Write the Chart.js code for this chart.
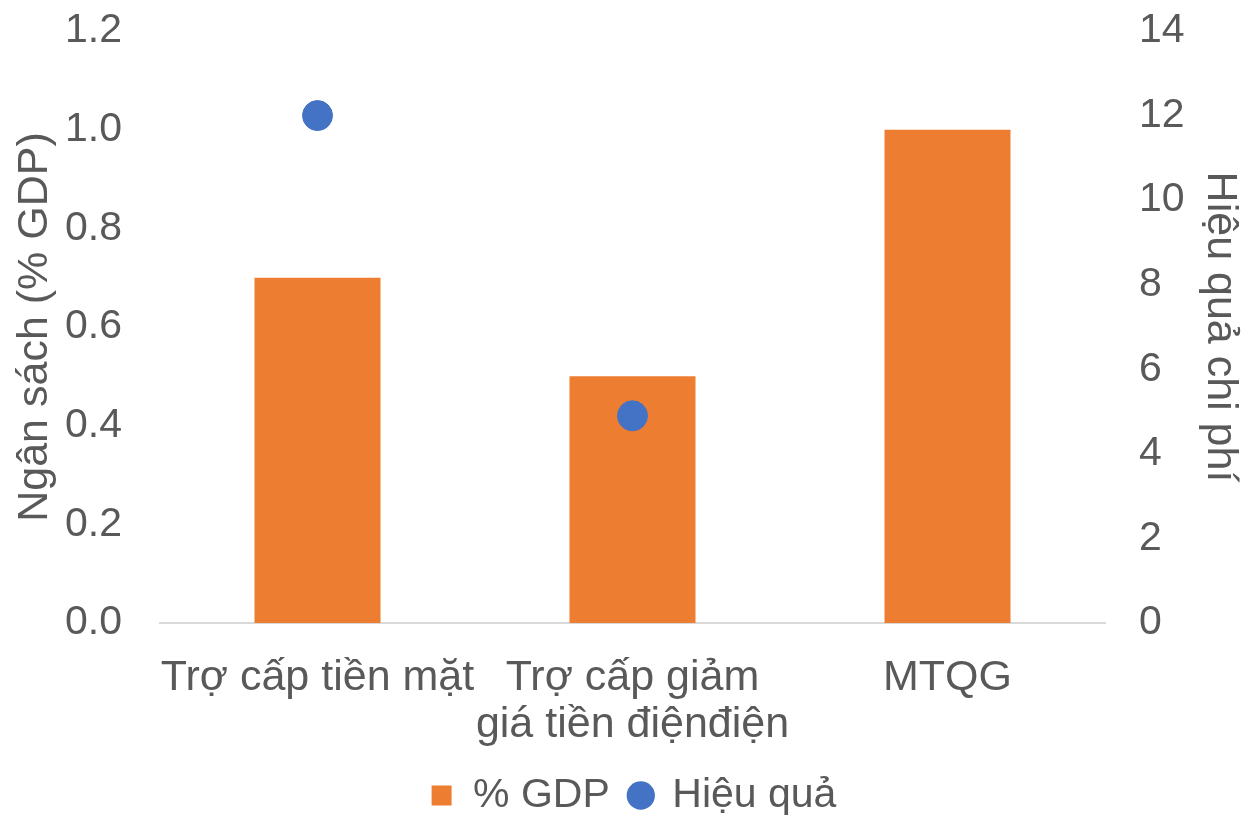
<!DOCTYPE html>
<html>
<head>
<meta charset="utf-8">
<script src="https://cdn.jsdelivr.net/npm/chart.js@4/dist/chart.umd.min.js"></script>
<style>
  html, body { margin: 0; padding: 0; background: #fff; overflow: hidden; }
  #wrap { width: 1241px; height: 826px; }
</style>
</head>
<body>
<div id="wrap"><canvas id="chart"></canvas></div>
<script>
const categories = [
  "Trợ cấp tiền mặt",
  ["Trợ cấp giảm", "giá tiền điệnđiện"],
  "MTQG"
];
const gdpShare = [0.7, 0.5, 1.0];
const efficiency = [12, 4.9, null];

const textColor = "#595959";
const fam = "'Liberation Sans', Arial, sans-serif";
const font = { family: fam, size: 41, lineHeight: 1.15 };
const catFont = { family: fam, size: 43, lineHeight: 1.1 };
const titleFont = { family: fam, size: 43, lineHeight: 1.0 };

// keep the plot area where the reference has it (top tick at y=30)
function fixVertical(scale, width) {
  scale.width = width;
  scale.paddingTop = 31;
  scale.paddingBottom = 0;
}

const ctx = document.getElementById("chart").getContext("2d");
new Chart(ctx, {
  data: {
    labels: categories,
    datasets: [
      {
        type: "scatter",
        label: "Hiệu quả",
        data: efficiency,
        yAxisID: "y1",
        showLine: false,
        backgroundColor: "#4472c4",
        borderColor: "#4472c4",
        pointRadius: 15,
        pointHoverRadius: 15,
        order: 0
      },
      {
        type: "bar",
        label: "% GDP",
        data: gdpShare,
        yAxisID: "y",
        backgroundColor: "#ed7d31",
        categoryPercentage: 1,
        barPercentage: 0.4,
        order: 1
      }
    ]
  },
  options: {
    responsive: true,
    maintainAspectRatio: false,
    animation: false,
    layout: { padding: { left: 26 } },
    plugins: {
      tooltip: { enabled: false },
      legend: {
        position: "bottom",
        reverse: true,
        labels: {
          color: textColor,
          font: font,
          usePointStyle: true,
          boxWidth: 22,
          boxHeight: 20,
          padding: 20,
          generateLabels(chart) {
            const items = Chart.defaults.plugins.legend.labels.generateLabels(chart);
            items.forEach(it => {
              it.pointStyle = it.datasetIndex === 1 ? "rect" : "circle";
              it.lineWidth = 0;
            });
            return items;
          }
        }
      }
    },
    scales: {
      x: {
        type: "category",
        offset: true,
        grid: { display: false, drawTicks: false },
        border: { display: true, color: "#d9d9d9", width: 2 },
        ticks: { color: textColor, font: catFont, padding: 31, maxRotation: 0, autoSkip: false },
        afterFit(scale) { scale.height = 132; }
      },
      y: {
        position: "left",
        min: 0,
        max: 1.2,
        grid: { display: false, drawTicks: false },
        border: { display: false },
        ticks: {
          stepSize: 0.2,
          color: textColor,
          font: font,
          padding: 38,
          callback: v => Number(v).toFixed(1)
        },
        title: { display: true, text: "Ngân sách (% GDP)", color: textColor, font: titleFont, padding: { top: -12, bottom: 0 } },
        afterFit(scale) { fixVertical(scale, 134); }
      },
      y1: {
        position: "right",
        min: 0,
        max: 14,
        grid: { display: false, drawTicks: false },
        border: { display: false },
        ticks: { stepSize: 2, color: textColor, font: font, padding: 34 },
        title: { display: true, text: "Hiệu quả chi phí", color: textColor, font: titleFont, padding: 0 },
        afterFit(scale) { fixVertical(scale, 136); }
      }
    }
  }
});
</script>
</body>
</html>
